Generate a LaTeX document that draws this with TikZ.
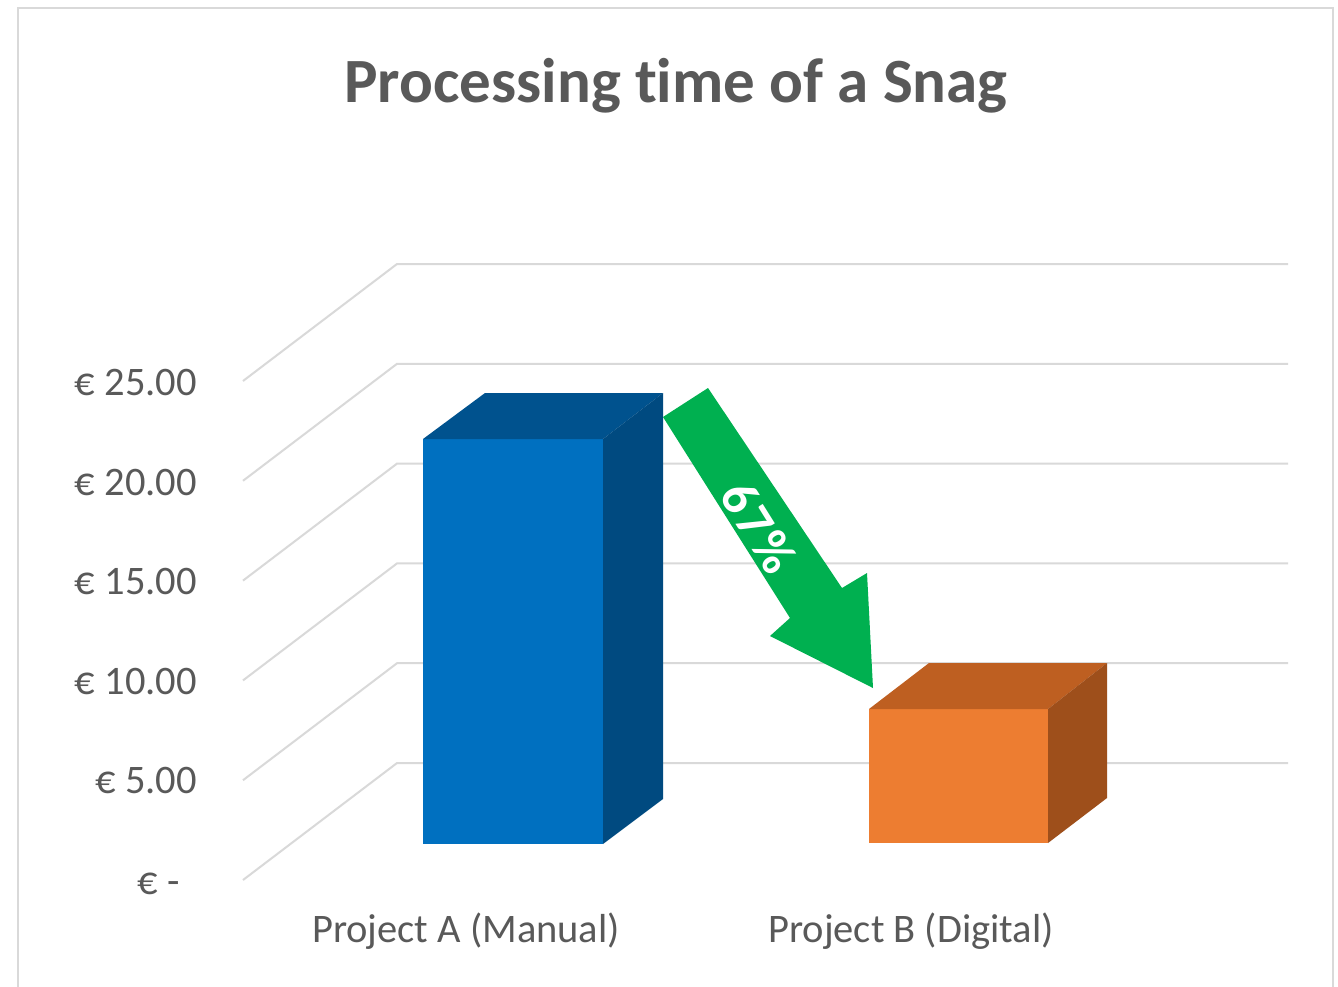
\documentclass[tikz,border=0pt]{standalone}
\usepackage{fontspec}
\setmainfont{Carlito}[Ligatures=NoCommon]
\begin{document}
\begin{tikzpicture}[x=1pt,y=-1pt,
  grid/.style={draw=gridgray,line width=2pt},
  axlabel/.style={anchor=base east,inner sep=0pt,text=txtgray,font=\fontsize{40.5}{48}\selectfont},
  catlabel/.style={anchor=base,inner sep=0pt,text=txtgray,font=\fontsize{40.5}{48}\selectfont},
  titlestyle/.style={anchor=base,inner sep=0pt,text=txtgray,font=\bfseries\fontsize{63}{75}\selectfont},
  pctstyle/.style={inner sep=0pt,text=white,font=\bfseries\fontsize{52}{60}\selectfont},
  frame/.style={draw=framegray,line width=2.5pt}
]
\definecolor{gridgray}{HTML}{D9D9D9}
\definecolor{framegray}{HTML}{D9D9D9}
\definecolor{txtgray}{HTML}{595959}
\definecolor{bluefront}{HTML}{0070C0}
\definecolor{bluetop}{HTML}{00528E}
\definecolor{blueside}{HTML}{004A80}
\definecolor{orfront}{HTML}{ED7D31}
\definecolor{ortop}{HTML}{BE5F21}
\definecolor{orside}{HTML}{9E4F1B}
\definecolor{arrgreen}{HTML}{00B050}

\useasboundingbox (0,0) rectangle (1338,986);
\clip (0,0) rectangle (1338,986);
\fill[white] (0,0) rectangle (1338,986);

% chart frame
\draw[frame] (18,8) rectangle (1333,1000);

% gridlines: back wall and side wall
\foreach \i in {0,...,5}{
  \pgfmathsetmacro{\yb}{264+99.8*\i}
  \pgfmathsetmacro{\yf}{381+99.8*\i}
  \draw[grid] (243,\yf) -- (397,\yb) -- (1288,\yb);
}

% title
\node[titlestyle] (title) at (676,102) {Processing time of a Snag};

% axis labels
\node[axlabel] (l25) at (197,395) {€ 25.00};
\node[axlabel] (l20) at (197,495) {€ 20.00};
\node[axlabel] (l15) at (197,594) {€ 15.00};
\node[axlabel] (l10) at (197,694) {€ 10.00};
\node[axlabel] (l5)  at (197,793) {€ 5.00};
\node[axlabel] (l0)  at (180,894) {€ -};

% blue bar (Project A)
\fill[bluefront] (423,439) rectangle (603,844);
\fill[bluetop] (423,439) -- (485,393) -- (663,393) -- (603,439) -- cycle;
\fill[blueside] (603,439) -- (663,393) -- (663,799) -- (603,844) -- cycle;

% orange bar (Project B)
\fill[orfront] (869,709) rectangle (1048,843);
\fill[ortop] (869,709) -- (929,663) -- (1107,663) -- (1048,709) -- cycle;
\fill[orside] (1048,709) -- (1107,663) -- (1107,798) -- (1048,843) -- cycle;

% green arrow
\fill[arrgreen] (663,417) -- (708,388) -- (842,588) -- (867,573) -- (873,688)
  -- (770,636) -- (790,618) -- cycle;
\node[pctstyle,rotate=-58] (pct) at (759,527) {6\kern3pt 7\kern3pt\%};

% category labels
\node[catlabel] (catA) at (466,942) {Project A (Manual)};
\node[catlabel] (catB) at (911,942) {Project B (Digital)};
\end{tikzpicture}
\end{document}
